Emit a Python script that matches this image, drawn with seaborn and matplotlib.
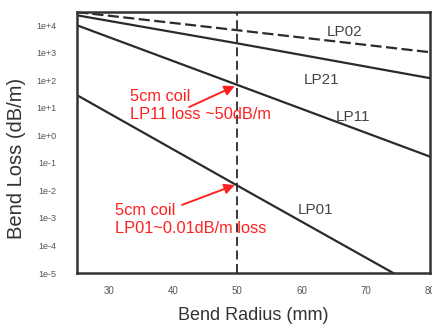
import seaborn as sns
import matplotlib.pyplot as plt
import matplotlib.ticker as mticker
import pandas as pd
import numpy as np

# data (log-linear lines)
radius = [25, 50, 80]
lp02 = [3.0e4, 6.6e3, 1.05e3]
lp21 = [2.3e4, 2.2e3, 1.2e2]
lp11 = [1.0e4, 68, 0.17]
lp01 = [29, 0.015, 1.8e-6]
modes = ["LP02", "LP21", "LP11", "LP01"]
coil_radius = 50

df = pd.DataFrame({
    "radius": radius * 4,
    "loss": lp02 + lp21 + lp11 + lp01,
    "mode": [m for m in modes for _ in radius],
})

sns.set_style("white")
plt.rcParams["font.family"] = ["Liberation Sans", "DejaVu Sans"]

fig = plt.figure(figsize=(4.32, 3.27), dpi=100)
ax = fig.add_axes([0.178, 0.165, 0.817, 0.798])

sns.lineplot(data=df, x="radius", y="loss", units="mode", estimator=None,
             style="mode", dashes={"LP02": (5, 2), "LP21": "", "LP11": "", "LP01": ""},
             color="#2b2b2b", linewidth=1.6, legend=False, ax=ax)

ax.axvline(coil_radius, color="#2b2b2b", linestyle=(0, (5, 2.5)), linewidth=1.3)

ax.set_yscale("log")
ax.set_xlim(25, 80)
ax.set_ylim(1e-5, 3e4)
ax.set_xticks([30, 40, 50, 60, 70, 80])
ax.set_yticks([10.0 ** k for k in range(-5, 5)])
ax.yaxis.set_minor_locator(mticker.NullLocator())
ax.yaxis.set_major_formatter(mticker.FuncFormatter(lambda v, p: "1e%+d" % round(np.log10(v))))

ax.tick_params(axis="both", direction="out", length=3, width=1.2,
               labelcolor="#555555", color="#333333")
ax.tick_params(axis="y", labelsize=6.5, pad=12)
ax.tick_params(axis="x", labelsize=7, pad=6)
for s in ax.spines.values():
    s.set_color("#333333")
    s.set_linewidth(1.8)

ax.set_xlabel("Bend Radius (mm)", fontsize=13, color="#333333")
ax.set_ylabel("Bend Loss (dB/m)", fontsize=14.5, color="#333333")
ax.xaxis.set_label_coords(0.5, -0.13)
ax.yaxis.set_label_coords(-0.145, 0.44)

# mode labels
lab_kw = dict(fontsize=11, color="#444444", ha="center", va="center")
ax.text(66.7, 5.6e3, "LP02", **lab_kw)
ax.text(63.1, 1.0e2, "LP21", **lab_kw)
ax.text(68.1, 4.7, "LP11", **lab_kw)
ax.text(62.2, 2.0e-3, "LP01", **lab_kw)

red = "#ff2020"
txt_kw = dict(color=red, fontsize=11.8, ha="left", va="center", linespacing=1.25)
ax.text(33.2, 1.2e1, "5cm coil\nLP11 loss ~50dB/m", **txt_kw)
ax.text(31.0, 8.5e-4, "5cm coil\nLP01~0.01dB/m loss", **txt_kw)

arrow = dict(arrowstyle="-|>,head_length=0.6,head_width=0.3", color=red, lw=1.4,
             shrinkA=0, shrinkB=2)
ax.annotate("", xy=(coil_radius, 68), xytext=(42.5, 10.7), arrowprops=arrow)
ax.annotate("", xy=(coil_radius, 0.017), xytext=(41.4, 3.0e-3), arrowprops=arrow)

plt.savefig("out.png", dpi=100)
plt.close()
